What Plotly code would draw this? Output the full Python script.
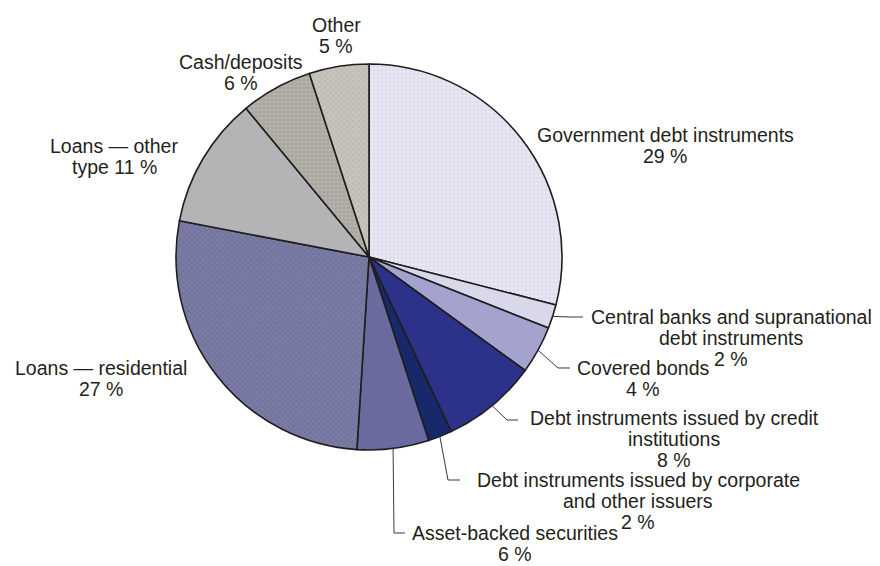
import math
import plotly.graph_objects as go

# ---- data ----
categories = [
    "Government debt instruments",
    "Central banks and supranational debt instruments",
    "Covered bonds",
    "Debt instruments issued by credit institutions",
    "Debt instruments issued by corporate and other issuers",
    "Asset-backed securities",
    "Loans — residential",
    "Loans — other type",
    "Cash/deposits",
    "Other",
]
shares = [29, 2, 4, 8, 2, 6, 27, 11, 6, 5]

label_lines = [
    ["Government debt instruments", "{v} %"],
    ["Central banks and supranational", "debt instruments", "{v} %"],
    ["Covered bonds", "{v} %"],
    ["Debt instruments issued by credit", "institutions", "{v} %"],
    ["Debt instruments issued by corporate", "and other issuers", "{v} %"],
    ["Asset-backed securities", "{v} %"],
    ["Loans — residential", "{v} %"],
    ["Loans — other", "type {v} %"],
    ["Cash/deposits", "{v} %"],
    ["Other", "{v} %"],
]

# ---- styles / layout (positions in screenshot pixels) ----
OFF = 8                      # page body margin
W, H = 880 - OFF, 566 - OFF  # figure size so it fits the window
CX, CY, R = 369, 257, 193
colors = ["#e7e7f4", "#d8d8ea", "#a3a3cd", "#2c3189", "#17286b",
          "#6a6a9f", "#7272a4", "#b4b4b7", "#a9a69e", "#c9c6bf"]
pat_shapes = [".", "", "", "", "", "", "x", "", ".", "x"]
pat_fg = ["#cfcfe3", "#d8d8ea", "#a3a3cd", "#2c3189", "#17286b",
          "#6a6a9f", "#8d8d99", "#b4b4b7", "#c4c2bb", "#aeaba4"]

label_pos = [(665, 135), (731, 317), (643, 368), (674, 418), (638, 480),
             (515, 533), (101, 368), (114, 146), (241, 62), (336, 25)]
leaders = {1: [(570, 317), (583, 317)],
           2: [(558, 368), (570, 368)],
           3: [(507, 420), (518, 420)],
           4: [(448, 480), (460, 480)],
           5: [(394, 533), (405, 533)]}
LINE_H = 21
FONT = dict(family="Liberation Sans, Arial, sans-serif", size=19.5, color="#231f20")


def px(x):
    return (x - OFF) / W


def py(y):
    return 1 - (y - OFF) / H


fig = go.Figure()
fig.add_trace(go.Pie(
    labels=categories,
    values=shares,
    sort=False,
    direction="clockwise",
    rotation=0,
    textinfo="none",
    hoverinfo="label+percent",
    marker=dict(
        colors=colors,
        line=dict(color="#1e1e1e", width=1.6),
        pattern=dict(shape=pat_shapes, fgcolor=pat_fg, bgcolor=colors,
                     fillmode="overlay", size=4, solidity=0.45),
    ),
    domain=dict(x=[px(CX - R), px(CX + R)], y=[py(CY + R), py(CY - R)]),
    showlegend=False,
))

annotations = []
for i, lines in enumerate(label_lines):
    x0, y0 = label_pos[i]
    for k, ln in enumerate(lines):
        annotations.append(dict(
            x=px(x0), y=py(y0 + k * LINE_H), xref="paper", yref="paper",
            text=ln.format(v=shares[i]), showarrow=False,
            xanchor="center", yanchor="middle", font=FONT))

total = sum(shares)
shapes = []
cum = 0
for i, v in enumerate(shares):
    mid = (cum + v / 2) / total * 2 * math.pi
    cum += v
    if i in leaders:
        sx = CX + (R - 1) * math.sin(mid)
        sy = CY - (R - 1) * math.cos(mid)
        pts = [(sx, sy)] + leaders[i]
        path = "M " + " L ".join(f"{px(a):.5f},{py(b):.5f}" for a, b in pts)
        shapes.append(dict(type="path", path=path, xref="paper", yref="paper",
                           line=dict(color="#3a3a3a", width=1)))

fig.update_layout(
    width=W, height=H,
    margin=dict(l=0, r=0, t=0, b=0),
    paper_bgcolor="white", plot_bgcolor="white",
    annotations=annotations, shapes=shapes,
)

fig.write_html("out.html")
